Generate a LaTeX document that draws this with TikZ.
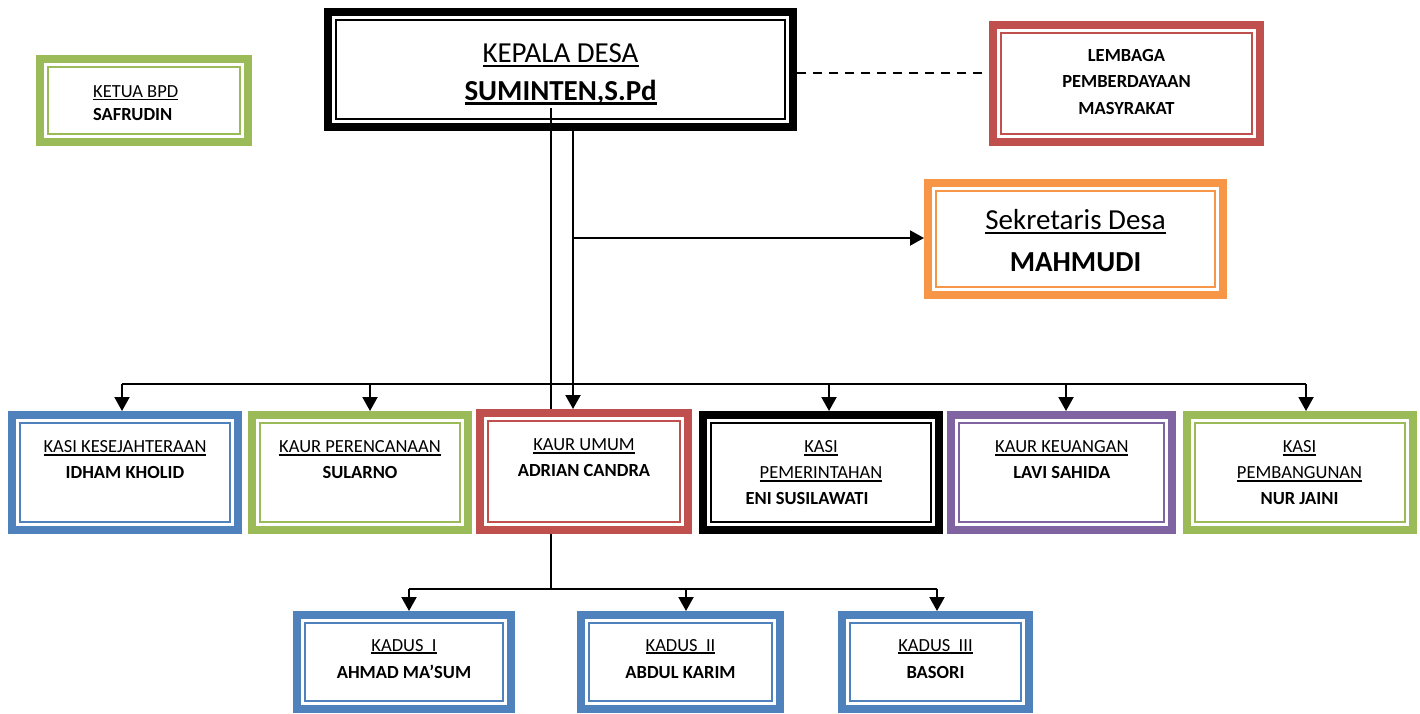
\documentclass[tikz,border=0pt]{standalone}
\usepackage{fontspec}
\setmainfont{Carlito}
\usetikzlibrary{arrows.meta}
\definecolor{cblue}{HTML}{4F81BD}
\definecolor{cgreen}{HTML}{9BBB59}
\definecolor{cred}{HTML}{C0504D}
\definecolor{cpurple}{HTML}{8064A2}
\definecolor{corange}{HTML}{F79646}
\newcommand\uln[1]{\leavevmode\setbox0\hbox{#1}\rlap{\rule[-0.17em]{\wd0}{0.1em}}\box0}
\newcommand\orgbox[6]{%
  \node[obox, draw=#2, minimum width={#5-#3-8}, minimum height={#6-#4-8}] (#1) at ({(#3+#5)/2},{(#4+#6)/2}) {};
  \draw[#2, line width=1.8pt] ({#3+11.8},{#4+11.8}) rectangle ({#5-11.8},{#6-11.8});
}
\begin{document}
\begin{tikzpicture}[x=1pt,y=-1pt,
  obox/.style={rectangle, line width=8pt, fill=white, inner sep=0pt},
  txt/.style={font=\fontsize{18.5}{25.6}\selectfont, align=center, inner sep=0pt, anchor=base},
  big/.style={font=\fontsize{29}{37.5}\selectfont},
  conn/.style={line width=2pt, black},
  arr/.style={conn, -{Triangle[length=14pt,width=15pt]}},
]
\fill[white] (0,0) rectangle (1420,713);
\useasboundingbox (0,0) rectangle (1420,713);

% boxes
\orgbox{ketua}{cgreen}{36}{55}{252}{146}
\orgbox{kd}{black}{324}{8}{797}{131}
\orgbox{lpm}{cred}{989}{21}{1264}{146}
\orgbox{sek}{corange}{924}{179}{1227}{299}
\orgbox{kks}{cblue}{8}{411}{242}{534}
\orgbox{kpr}{cgreen}{248}{411}{472}{534}
\orgbox{ku}{cred}{476}{409}{692}{534}
\orgbox{kpm}{black}{699}{411}{943}{534}
\orgbox{kkeu}{cpurple}{947}{411}{1176}{534}
\orgbox{kpb}{cgreen}{1183}{411}{1417}{534}
\orgbox{kd1}{cblue}{293}{611}{515}{712.5}
\orgbox{kd2}{cblue}{577}{611}{784}{712.5}
\orgbox{kd3}{cblue}{838}{611}{1033}{712.5}

% texts (anchor = baseline of the last line)
\node[txt, anchor=base west, align=left, font=\fontsize{18.5}{23.4}\selectfont] (ketua-t) at (93,120.7) {\uln{KETUA BPD}\\\textbf{SAFRUDIN}};
\node[txt, big] (kd-t) at (560.5,100) {\uln{KEPALA DESA}\\\textbf{\uln{SUMINTEN,S.Pd}}};
\node[txt, font=\fontsize{18.5}{26.6}\selectfont\bfseries] (lpm-t) at (1126.5,114.2) {LEMBAGA\\PEMBERDAYAAN\\MASYRAKAT};
\node[txt, font=\fontsize{29}{42}\selectfont] (sek-t) at (1075.5,271.5) {\uln{Sekretaris Desa}\\\textbf{MAHMUDI}};
\node[txt] (kks-t) at (125,478.3) {\uln{KASI KESEJAHTERAAN}\\\textbf{IDHAM KHOLID}};
\node[txt] (kpr-t) at (360,478.3) {\uln{KAUR PERENCANAAN}\\\textbf{SULARNO}};
\node[txt, font=\fontsize{18.5}{25.3}\selectfont] (ku-t) at (584,476) {\uln{KAUR UMUM}\\\textbf{ADRIAN CANDRA}};
\node[txt, font=\fontsize{18.5}{25.8}\selectfont] (kpm-t) at (821,504.3) {\uln{KASI}\\\uln{PEMERINTAHAN}\\\mbox{\textbf{ENI SUSILAWATI}\hspace{28pt}}};
\node[txt] (kkeu-t) at (1061.8,478.3) {\uln{KAUR KEUANGAN}\\\textbf{LAVI SAHIDA}};
\node[txt, font=\fontsize{18.5}{25.8}\selectfont] (kpb-t) at (1299.5,504.3) {\uln{KASI}\\\uln{PEMBANGUNAN}\\\textbf{NUR JAINI}};
\node[txt, font=\fontsize{18.5}{27.3}\selectfont] (kd1-t) at (404,678.3) {\uln{KADUS\ \ I}\\\textbf{AHMAD MA’SUM}};
\node[txt, font=\fontsize{18.5}{27.3}\selectfont] (kd2-t) at (680.5,678.3) {\uln{KADUS\ \ II}\\\textbf{ABDUL KARIM}};
\node[txt, font=\fontsize{18.5}{27.3}\selectfont] (kd3-t) at (935.5,678.3) {\uln{KADUS\ \ III}\\\textbf{BASORI}};

% connector coordinates
\coordinate (d0) at (0,73);
\coordinate (j1) at (573,238);
\coordinate (k0) at (551,108);
\coordinate (kb) at (551,589);
\coordinate (a1) at (122,384);
\coordinate (a2) at (370,384);
\coordinate (a4) at (829,384);
\coordinate (a5) at (1066,384);
\coordinate (a6) at (1306,384);
\coordinate (b1) at (409,589);
\coordinate (b2) at (686,589);
\coordinate (b3) at (937,589);

% connectors
\draw[conn, dash pattern=on 9pt off 7pt] (kd.east |- d0) -- (lpm.west |- d0);
\draw[arr] (kd.south -| j1) -- (ku.north -| j1);
\draw[arr] (j1) -- (sek.west |- j1);
\draw[conn, line width=1.8pt] (k0) -- (k0 |- ku.north);
\draw[conn, line width=1.8pt] (k0 |- ku.south) -- (kb);
\draw[conn] (a1) -- (a6);
\draw[arr] (a1) -- (a1 |- kks.north);
\draw[arr] (a2) -- (a2 |- kpr.north);
\draw[arr] (a4) -- (a4 |- kpm.north);
\draw[arr] (a5) -- (a5 |- kkeu.north);
\draw[arr] (a6) -- (a6 |- kpb.north);
\draw[conn] (b1) -- (b3);
\draw[arr] (b1) -- (b1 |- kd1.north);
\draw[arr] (b2) -- (b2 |- kd2.north);
\draw[arr] (b3) -- (b3 |- kd3.north);
\end{tikzpicture}
\end{document}
